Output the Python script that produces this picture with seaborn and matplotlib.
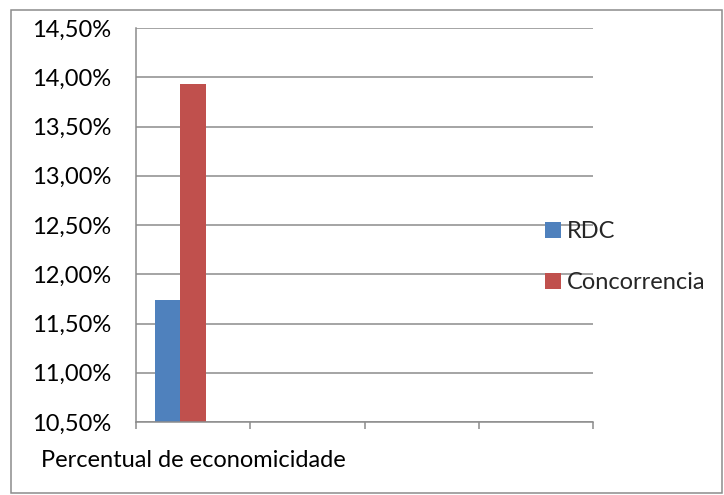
import numpy as np
import pandas as pd
import matplotlib
matplotlib.use("Agg")
import matplotlib.pyplot as plt
import seaborn as sns
from matplotlib.patches import Rectangle
from matplotlib.ticker import FuncFormatter, FixedLocator
import matplotlib.transforms as mtransforms

# ── DATA ──────────────────────────────────────────────────────────────────
categories = ["Percentual de economicidade", "", "", ""]   # 4 slots, only first used
series     = ["RDC", "Concorrencia", " "]                   # third series is empty in the source
rdc_vals   = [11.74, np.nan, np.nan, np.nan]
conc_vals  = [13.93, np.nan, np.nan, np.nan]
empty_vals = [np.nan, np.nan, np.nan, np.nan]
colors     = ["#4F81BD", "#C0504D", "#9BBB59"]
y_ticks    = [10.5, 11.0, 11.5, 12.0, 12.5, 13.0, 13.5, 14.0, 14.5]

n = len(categories)
df = pd.DataFrame({
    "slot": list(range(n)) * 3,
    "serie": [series[0]] * n + [series[1]] * n + [series[2]] * n,
    "valor": rdc_vals + conc_vals + empty_vals,
})

# ── STYLE ─────────────────────────────────────────────────────────────────
sns.set_theme(style="white")
plt.rcParams["font.family"] = ["Lato", "DejaVu Sans"]
FS = 17
GRID = "#8c8c8c"

fig = plt.figure(figsize=(7.24, 4.95), dpi=100)
ax = fig.add_axes([136 / 724, 1 - 422 / 495, (593 - 136) / 724, (422 - 28) / 495])

sns.barplot(data=df, x="slot", y="valor", hue="serie", hue_order=series,
            palette=colors, width=0.667, saturation=1, linewidth=0,
            ax=ax, legend=True)

ax.set_xlim(-0.5, n - 0.5)
ax.set_ylim(y_ticks[0], y_ticks[-1])
ax.yaxis.set_major_locator(FixedLocator(y_ticks))
ax.yaxis.set_major_formatter(FuncFormatter(lambda v, p: f"{v:.2f}%".replace(".", ",")))
ax.grid(axis="y", color=GRID, linewidth=1.1)
ax.set_axisbelow(True)

# category boundaries as ticks, labels placed at centres
ax.set_xticks(np.arange(-0.5, n, 1.0))
ax.set_xticklabels([])
trans = mtransforms.blended_transform_factory(ax.transData, ax.transAxes)
for i, c in enumerate(categories):
    if c:
        ax.text(i, -0.097, c, transform=trans, ha="center", va="center",
                fontsize=FS, color="black")

ax.tick_params(axis="both", direction="out", length=5, width=1.1, color=GRID,
               labelsize=FS, labelcolor="black")
ax.tick_params(axis="y", pad=13)
ax.tick_params(axis="x", bottom=True)
ax.set_xlabel("")
ax.set_ylabel("")

for s in ["top", "right"]:
    ax.spines[s].set_visible(False)
for s in ["left", "bottom"]:
    ax.spines[s].set_color(GRID)
    ax.spines[s].set_linewidth(1.1)

# legend (only the two real series)
handles, labels = ax.get_legend_handles_labels()
ax.get_legend().remove()
fig.legend(handles[:2], labels[:2], loc="center left",
           bbox_to_anchor=(545 / 724, 1 - 257 / 495),
           frameon=False, fontsize=FS, handlelength=0.68, handleheight=0.68,
           handletextpad=0.25, labelspacing=1.28, borderpad=0, borderaxespad=0)

# outer chart border
fig.patches.append(Rectangle((11 / 724, 1 - 493 / 495), (722 - 11) / 724, (493 - 10) / 495,
                             transform=fig.transFigure, fill=False,
                             edgecolor=GRID, linewidth=1.1))

fig.savefig("out.png", dpi=100)
